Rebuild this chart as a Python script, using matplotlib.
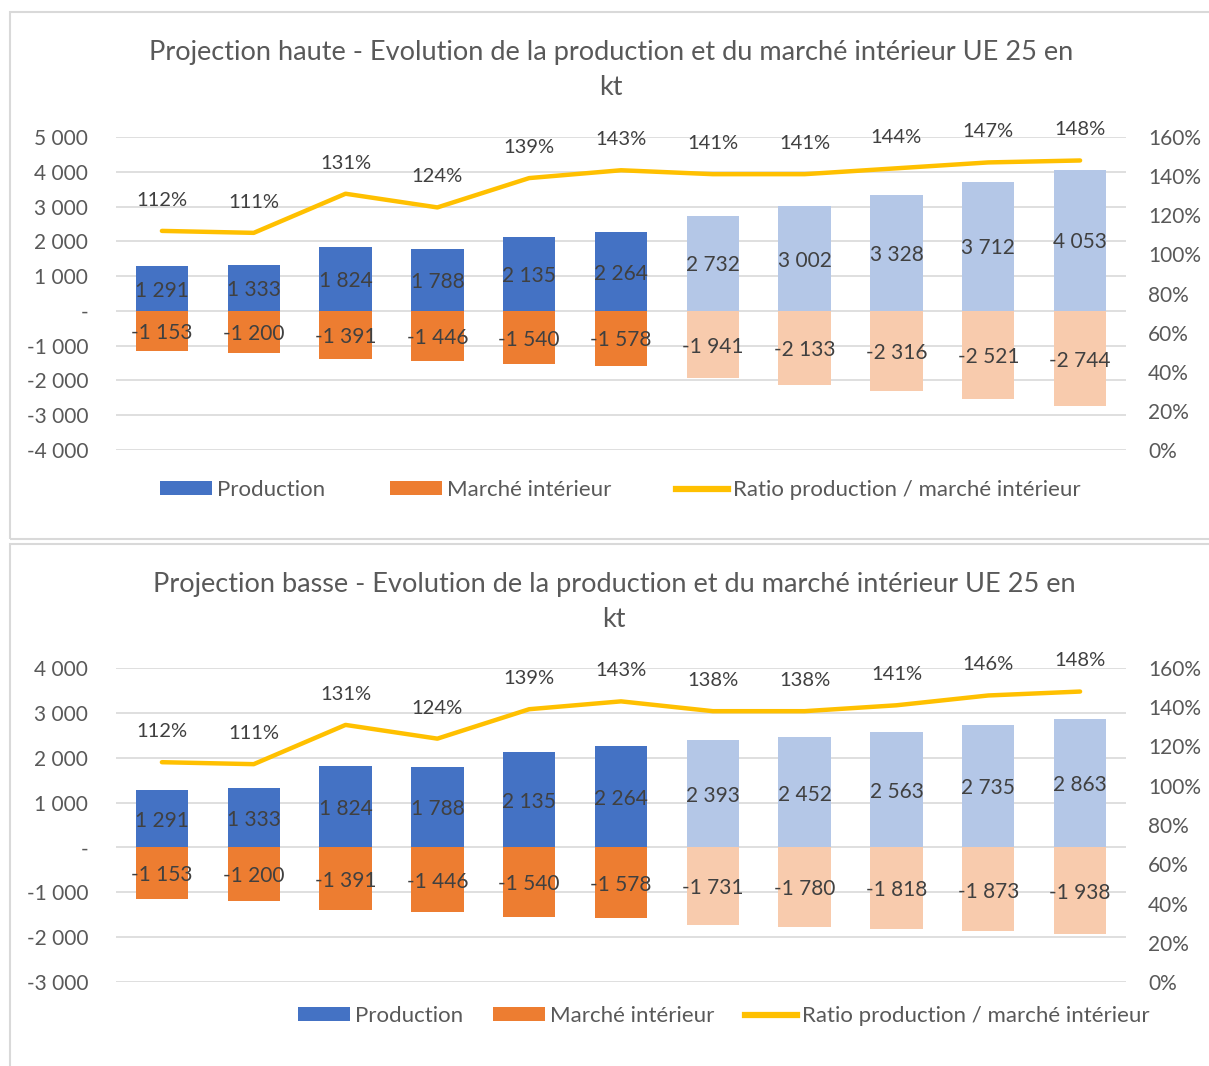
import matplotlib
matplotlib.use("Agg")
import matplotlib.pyplot as plt
from matplotlib.patches import Rectangle, Patch
from matplotlib.lines import Line2D
from matplotlib.ticker import FuncFormatter, MultipleLocator

plt.rcParams['font.family'] = ['Lato', 'DejaVu Sans']

# ---------------- data ----------------
years_idx = list(range(11))
projected = [False] * 6 + [True] * 5

prod_haute = [1291, 1333, 1824, 1788, 2135, 2264, 2732, 3002, 3328, 3712, 4053]
march_haute = [-1153, -1200, -1391, -1446, -1540, -1578, -1941, -2133, -2316, -2521, -2744]
ratio_haute = [112, 111, 131, 124, 139, 143, 141, 141, 144, 147, 148]

prod_basse = [1291, 1333, 1824, 1788, 2135, 2264, 2393, 2452, 2563, 2735, 2863]
march_basse = [-1153, -1200, -1391, -1446, -1540, -1578, -1731, -1780, -1818, -1873, -1938]
ratio_basse = [112, 111, 131, 124, 139, 143, 138, 138, 141, 146, 148]

title_haute = "Projection haute - Evolution de la production et du marché intérieur UE 25 en\nkt"
title_basse = "Projection basse - Evolution de la production et du marché intérieur UE 25 en\nkt"
legend_labels = ["Production", "Marché intérieur", "Ratio production / marché intérieur"]

# ---------------- styles ----------------
BLUE = "#4472C4"
BLUE_L = "#B4C7E7"
ORANGE = "#ED7D31"
ORANGE_L = "#F8CBAD"
YELLOW = "#FFC000"
TXT = "#595959"
LBL = "#404040"
GRID = "#D9D9D9"

W, H = 1209, 1066
fig = plt.figure(figsize=(W / 100, H / 100), dpi=100)


def fmt_num(v):
    if v == 0:
        return "-"
    s = f"{abs(int(round(v))):,}".replace(",", " ")
    return ("-" if v < 0 else "") + s


def px_axes(left, top, right, bottom):
    return fig.add_axes([left / W, 1 - bottom / H, (right - left) / W, (bottom - top) / H])


def panel(top_px, bot_px, ax_top, ax_bot, ymin, ymax, prod, march, ratio, title,
          title_y, title_x, leg_x, leg_y, colspace):
    # border
    fig.patches.append(Rectangle((10 / W, 1 - bot_px / H), (W + 10) / W, (bot_px - top_px) / H,
                                 transform=fig.transFigure, fill=False,
                                 edgecolor="#D9D9D9", linewidth=1.5))
    ax = px_axes(116, ax_top, 1126, ax_bot)
    ax.set_xlim(-0.5, 10.5)
    ax.set_ylim(ymin, ymax)
    ax.yaxis.set_major_locator(MultipleLocator(1000))
    ax.yaxis.set_major_formatter(FuncFormatter(lambda v, p: fmt_num(v)))
    ax.grid(axis='y', color=GRID, linewidth=1.2)
    ax.set_axisbelow(True)
    for s in ax.spines.values():
        s.set_visible(False)
    ax.set_xticks([])
    ax.tick_params(axis='y', length=0, pad=20, labelsize=15, labelcolor=TXT)

    pcol = [BLUE_L if p else BLUE for p in projected]
    mcol = [ORANGE_L if p else ORANGE for p in projected]
    ax.bar(years_idx, prod, width=0.57, color=pcol, zorder=2)
    ax.bar(years_idx, march, width=0.57, color=mcol, zorder=2)
    for i in years_idx:
        ax.annotate(fmt_num(prod[i]), (i, prod[i] / 2), xytext=(0, -1.5),
                    textcoords='offset points', ha='center', va='center',
                    fontsize=15, color=LBL, zorder=5)
        ax.annotate(fmt_num(march[i]), (i, march[i] / 2), xytext=(0, -1.5),
                    textcoords='offset points', ha='center', va='center',
                    fontsize=15, color=LBL, zorder=5)

    ax2 = ax.twinx()
    ax2.set_ylim(0, 160)
    ax2.yaxis.set_major_locator(MultipleLocator(20))
    ax2.yaxis.set_major_formatter(FuncFormatter(lambda v, p: f"{int(round(v))}%"))
    for s in ax2.spines.values():
        s.set_visible(False)
    ax2.tick_params(axis='y', length=0, pad=16, labelsize=15, labelcolor=TXT)
    ax2.plot(years_idx, ratio, color=YELLOW, linewidth=3.2, solid_capstyle='round', zorder=3)
    for i in years_idx:
        ax2.annotate(f"{ratio[i]}%", (i, ratio[i]), xytext=(0, 22), textcoords='offset points',
                     ha='center', va='center', fontsize=14.5, color=LBL)

    fig.text(title_x / W, 1 - title_y / H, title, ha='center', va='center',
             fontsize=19.5, color=TXT, linespacing=1.5)

    handles = [Patch(facecolor=BLUE), Patch(facecolor=ORANGE),
               Line2D([0], [0], color=YELLOW, linewidth=4.5)]
    fig.legend(handles, legend_labels, loc='center left',
               bbox_to_anchor=(leg_x / W, 1 - leg_y / H), ncol=3, frameon=False,
               fontsize=16, labelcolor=TXT, handlelength=2.35, handleheight=0.6,
               handletextpad=0.22, columnspacing=colspace, borderpad=0, borderaxespad=0)


panel(12, 539, 137, 450, -4000, 5000, prod_haute, march_haute, ratio_haute, title_haute,
      70, 611, 160, 490, 2.9)
panel(544, 1080, 668, 982, -3000, 4000, prod_basse, march_basse, ratio_basse, title_basse,
      602, 614, 298, 1016, 1.35)

fig.savefig("out.png", dpi=100, facecolor="white")
